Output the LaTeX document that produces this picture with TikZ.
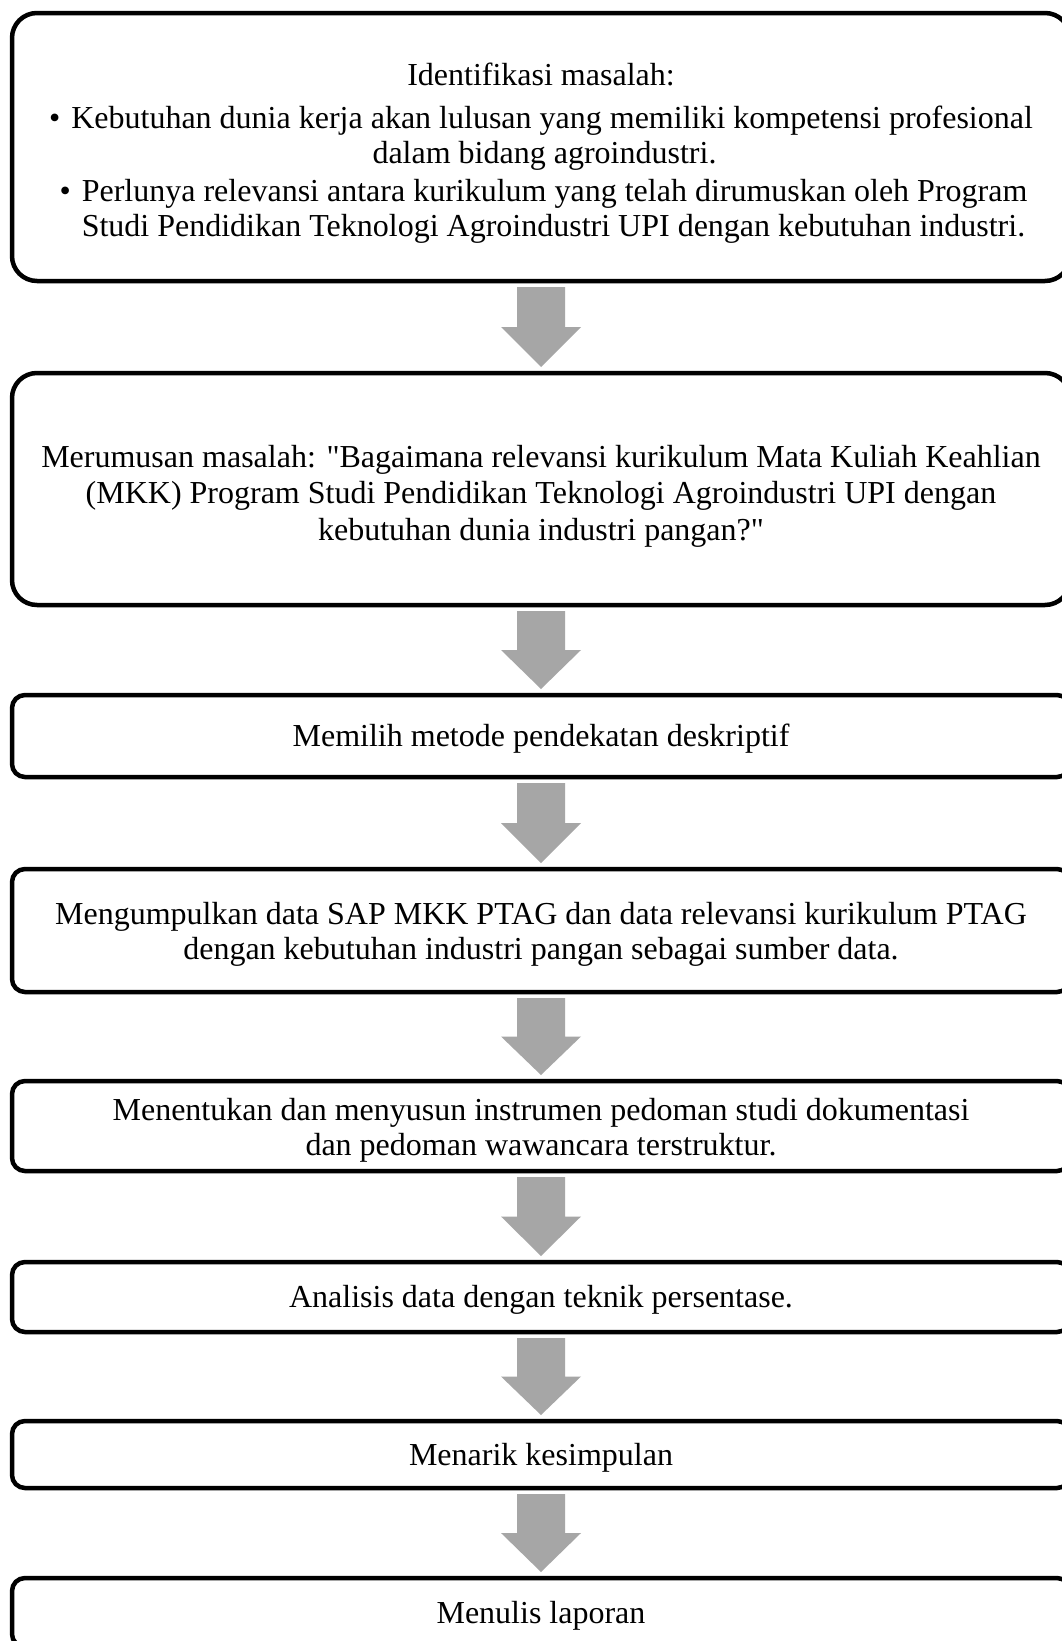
\documentclass[tikz,border=0pt]{standalone}
\usepackage{fontspec}
\setmainfont{Liberation Serif}
\newfontfamily\flowfont{Liberation Serif}
\usetikzlibrary{calc}
\definecolor{arrowgray}{RGB}{166,166,166}
\tikzset{
  flowbox/.style={draw=black, line width=4.5pt, rectangle, outer sep=0pt, inner sep=0pt,
    minimum width=1058pt},
  flowtext/.style={inner sep=0pt, align=center, font=\flowfont\fontsize{32}{35}\selectfont},
  biground/.style={rounded corners=25pt},
  smallround/.style={rounded corners=13pt},
  arrowfill/.style={fill=arrowgray}
}
\newcommand\flowarrow[2]{%
  \fill[arrowfill] let \p1=(#1.south), \p2=(#2.north),
    \n1={\y1-6pt}, \n2={\y2+6pt}, \n3={(\y1+\y2)/2} in
  (\x1-24pt,\n1) -- (\x1+24pt,\n1) -- (\x1+24pt,\n3) -- (\x1+40pt,\n3)
  -- (\x1,\n2) -- (\x1-40pt,\n3) -- (\x1-24pt,\n3) -- cycle;}
\newcommand\bul{•\hspace{11pt}}
\begin{document}
\begin{tikzpicture}[x=1pt,y=-1pt]
\useasboundingbox (0,0) rectangle (1062,1641);
\fill[white] (0,0) rectangle (1062,1641);
\clip (0,0) rectangle (1062,1641);
% boxes
\node[flowbox, biground, minimum height=268pt] (b1) at (541,147) {};
\node[flowbox, biground, minimum height=232pt] (b2) at (541,489) {};
\node[flowbox, smallround, minimum height=82pt] (b3) at (541,736) {};
\node[flowbox, smallround, minimum height=123pt] (b4) at (541,930.5) {};
\node[flowbox, smallround, minimum height=90pt] (b5) at (541,1126) {};
\node[flowbox, smallround, minimum height=70pt] (b6) at (541,1297) {};
\node[flowbox, smallround, minimum height=67pt] (b7) at (541,1454.5) {};
\node[flowbox, smallround, minimum height=69pt] (b8) at (541,1612.5) {};
% texts
\node[flowtext] (t1) at ($(b1.center)+(0,6)$) {Identifikasi masalah:\\[8pt]
\bul Kebutuhan dunia kerja akan lulusan yang memiliki kompetensi profesional\\
\hspace*{7pt}dalam bidang agroindustri.\\[3pt]
\hspace*{5pt}\bul Perlunya relevansi antara kurikulum yang telah dirumuskan oleh Program\\
\hspace*{25pt}Studi Pendidikan Teknologi Agroindustri UPI dengan kebutuhan industri.};
\node[flowtext, font=\flowfont\fontsize{32}{36.5}\selectfont] (t2) at ($(b2.center)+(0,7)$) {Merumusan masalah: "Bagaimana relevansi kurikulum Mata Kuliah Keahlian\\
(MKK) Program Studi Pendidikan Teknologi Agroindustri UPI dengan\\
kebutuhan dunia industri pangan?"};
\node[flowtext] (t3) at ($(b3.center)+(0,3)$) {Memilih metode pendekatan deskriptif};
\node[flowtext] (t4) at ($(b4.center)+(0,4)$) {Mengumpulkan data SAP MKK PTAG dan data relevansi kurikulum PTAG\\
dengan kebutuhan industri pangan sebagai sumber data.};
\node[flowtext] (t5) at ($(b5.center)+(0,4)$) {Menentukan dan menyusun instrumen pedoman studi dokumentasi\\
dan pedoman wawancara terstruktur.};
\node[flowtext] (t6) at ($(b6.center)+(0,3)$) {Analisis data dengan teknik persentase.};
\node[flowtext] (t7) at ($(b7.center)+(0,3)$) {Menarik kesimpulan};
\node[flowtext] (t8) at ($(b8.center)+(0,3)$) {Menulis laporan};
% arrows
\flowarrow{b1}{b2}
\flowarrow{b2}{b3}
\flowarrow{b3}{b4}
\flowarrow{b4}{b5}
\flowarrow{b5}{b6}
\flowarrow{b6}{b7}
\flowarrow{b7}{b8}
\end{tikzpicture}
\end{document}
